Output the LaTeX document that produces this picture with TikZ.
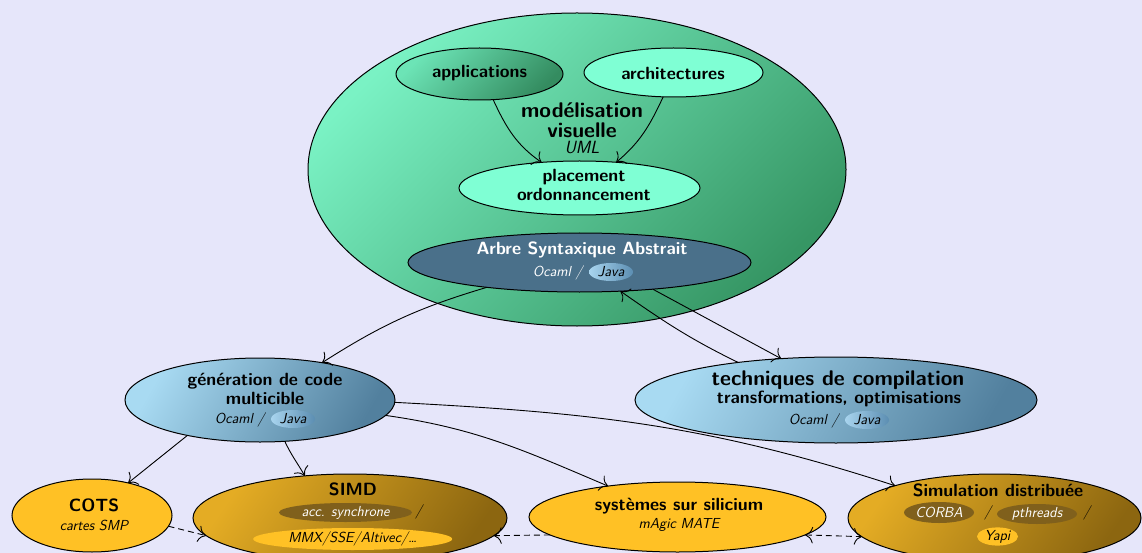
\documentclass[tikz,border=0pt]{standalone}
\usepackage{fontspec}
\usetikzlibrary{shapes.geometric,arrows.meta}

% type sizes used in the chart
\newcommand\FtNorm{\fontsize{17.7}{18}\selectfont}
\newcommand\FtBig{\fontsize{21.2}{21}\selectfont}
\newcommand\FtSub{\fontsize{14.5}{15}\selectfont}

\definecolor{bgc}{RGB}{230,230,250}
\definecolor{grnL}{RGB}{122,242,196}
\definecolor{grnD}{RGB}{54,150,100}
\definecolor{appL}{RGB}{108,228,182}
\definecolor{appD}{RGB}{52,140,96}
\definecolor{aqua}{RGB}{127,255,212}
\definecolor{astc}{RGB}{74,112,138}
\definecolor{bluL}{RGB}{168,218,242}
\definecolor{bluD}{RGB}{82,128,158}
\definecolor{javL}{RGB}{168,212,238}
\definecolor{javD}{RGB}{92,142,178}
\definecolor{gold}{RGB}{255,193,37}
\definecolor{goldL}{RGB}{228,172,36}
\definecolor{goldD}{RGB}{140,102,16}
\definecolor{goldX}{RGB}{128,96,28}

\tikzset{
  oval/.style={ellipse, draw=black, line width=1pt, inner sep=0pt, outer sep=0pt},
  dims/.style n args={2}{minimum width=#1, minimum height=#2},
  greenshade/.style={top color=#1, bottom color=grnD, shading angle=45},
  blueshade/.style={top color=bluL, bottom color=bluD, shading angle=60},
  goldshade/.style={top color=goldL, bottom color=goldD, shading angle=55},
  title/.style={inner sep=0pt, font=\FtNorm\sffamily\bfseries},
  bigtitle/.style={inner sep=0pt, font=\FtBig\sffamily\bfseries},
  sub/.style={inner sep=0pt, font=\FtSub\sffamily\itshape},
  pill/.style={ellipse, inner sep=0pt, outer sep=0pt, font=\FtSub\sffamily\itshape},
  javapill/.style={pill, dims={44}{18}, left color=javL, right color=javD, text=black},
  darkpill/.style={pill, fill=goldX, text=white},
  lightpill/.style={pill, fill=gold},
  conn/.style={line width=0.9pt, -{To[scale=2.2]}},
  dconn/.style={line width=0.9pt, dash pattern=on 6pt off 4pt, -{To[scale=2.2]}},
}

\begin{document}
\begin{tikzpicture}[x=1pt,y=-1pt]
\useasboundingbox (0,0) rectangle (1142,553);
\fill[bgc] (0,0) rectangle (1142,553);

% ---- modelling block ----
\node[oval, dims={538}{313}, greenshade=grnL] (model) at (577,169.5) {};
\node[oval, dims={167}{52}, top color=appL, bottom color=appD, shading angle=45] (apps) at (479.5,74) {};
\node[oval, dims={179}{49}, fill=aqua] (arch) at (673.5,72.5) {};
\node[oval, dims={241}{54}, fill=aqua] (place) at (579.5,188) {};
\node[oval, dims={343}{59}, fill=astc] (ast) at (579.5,262.5) {};

\node[title] (apptx) at (479.5,73) {applications};
\node[title] (archtx) at (673,73) {architectures};
\node[bigtitle] (modtx1) at (582,110) {modélisation};
\node[bigtitle] (modtx2) at (582,130) {visuelle};
\node[inner sep=0pt, font=\FtNorm\sffamily\itshape] (umltx) at (582,148) {UML};
\node[title] (placetx1) at (584,177) {placement};
\node[title] (placetx2) at (584,194) {ordonnancement};

\node[title, text=white] (asttx) at (582,250) {Arbre Syntaxique Abstrait};
\node[javapill] (astjava) at (611,272) {Java};
\node[sub, text=white, anchor=base east] (astoc) at ([xshift=-28]astjava.base) {Ocaml /};

% ---- code generation and compilation ----
\node[oval, dims={270}{84}, blueshade] (gen) at (260,400) {};
\node[oval, dims={402}{86}, blueshade] (tech) at (836,400) {};

\node[title] (gentx1) at (265,381) {génération de code};
\node[title] (gentx2) at (265,398) {multicible};
\node[javapill] (genjava) at (293,419) {Java};
\node[sub, anchor=base east] (genoc) at ([xshift=-28]genjava.base) {Ocaml /};

\node[bigtitle] (techtx1) at (838,380) {techniques de compilation};
\node[title] (techtx2) at (839,399) {transformations, optimisations};
\node[javapill] (techjava) at (867,420) {Java};
\node[sub, anchor=base east] (techoc) at ([xshift=-28]techjava.base) {Ocaml /};

% ---- targets ----
\node[oval, dims={160}{73}, fill=gold] (cots) at (92,515.5) {};
\node[oval, dims={314}{88}, goldshade] (simd) at (350,518) {};
\node[oval, dims={297}{70}, fill=gold] (soc) at (677.5,517) {};
\node[oval, dims={293}{88}, goldshade] (sim) at (994.5,518) {};

\node[title] (cotstx1) at (94,505) {COTS};
\node[sub] (cotstx2) at (94,525) {cartes SMP};

\node[title] (simdtx) at (353,489) {SIMD};
\node[darkpill, dims={133}{19}] (simdacc) at (345.5,512.5) {acc. synchrone};
\node[sub] (simdsl) at (419,512) {/};
\node[lightpill, dims={199}{22}] (simdmmx) at (352.7,539) {MMX/SSE/Altivec/\dots};

\node[title] (soctx1) at (679,506) {systèmes sur silicium};
\node[sub] (soctx2) at (679,525) {mAgic MATE};

\node[title] (simtx) at (998,490.7) {Simulation distribuée};
\node[darkpill, dims={70}{21}] (simcorba) at (939,512.5) {CORBA};
\node[sub] (simsl1) at (988,513) {/};
\node[darkpill, dims={80}{20}] (simpth) at (1037,514) {pthreads};
\node[sub] (simsl2) at (1087,513) {/};
\node[lightpill, dims={41}{18}] (simyapi) at (997.5,536.5) {Yapi};

% ---- connectors ----
\draw[conn] (apps.-62.6) to[out=-65, in=145] (place.146.6);
\draw[conn] (arch.-113) to[out=-115, in=40] (place.35.6);

\draw[conn] (ast.-165.2) to[bend right=8] (gen.31.8);
\draw[conn] (ast.-20.5) -- (tech.143.9);
\draw[conn] (tech.159.9) to[out=154, in=-35] (ast.-35.7);

\draw[conn] (gen.-154) -- (cots.42);
\draw[conn] (gen.-59) to[out=-65, in=120] (simd.137.6);
\draw[conn] (gen.-7.6) to[out=-8, in=157] (soc.156.1);
\draw[conn] (gen.-1) to[out=-3, in=162] (sim.162.2);

\draw[dconn] (cots.-8.6) -- (simd.187.6);
\draw[dconn] (soc.188) -- (simd.-7.6);
\draw[dconn, {To[scale=2.2]}-{To[scale=2.2]}] (soc.-8) -- (sim.188.2);
\end{tikzpicture}
\end{document}
